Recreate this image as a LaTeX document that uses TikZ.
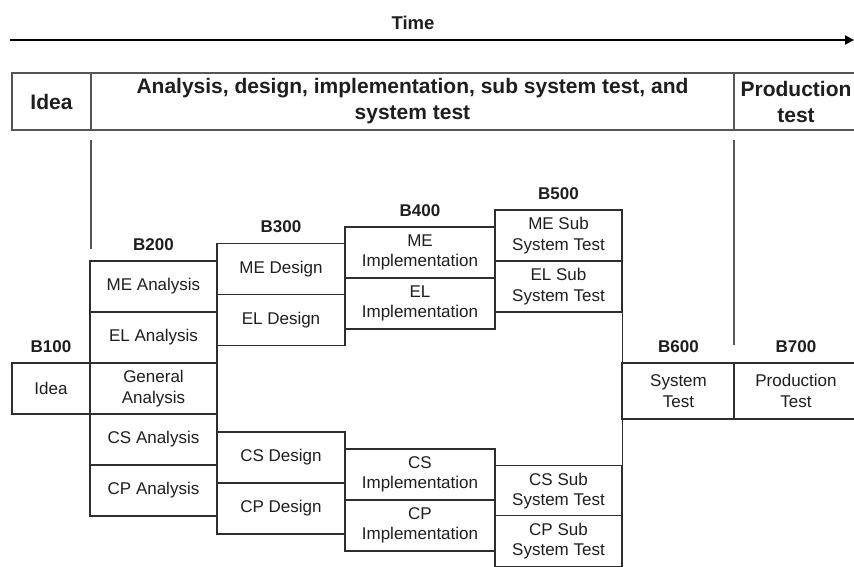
\documentclass[tikz,border=0pt]{standalone}
\usepackage{fontspec}
\setmainfont{Liberation Sans}
\usetikzlibrary{arrows.meta}
\definecolor{boxline}{HTML}{2E2E2E}
\definecolor{hdrline}{HTML}{555555}
\definecolor{ink}{HTML}{1E1E1E}
\begin{document}
\begin{tikzpicture}[x=1pt,y=-1pt,
  cell/.style={draw=boxline, line width=1.3pt, fill=white, inner sep=0pt,
    align=center, text=ink, font=\fontsize{17}{20.5}\selectfont,
    minimum height=51pt},
  hcell/.style={draw=hdrline, line width=1.8pt, inner sep=0pt, align=center,
    text=ink, font=\bfseries\fontsize{21}{26}\selectfont, minimum height=57pt},
  lbl/.style={anchor=base, text=ink, font=\bfseries\fontsize{17}{20}\selectfont},
  rule/.style={draw=hdrline, line width=1.5pt},
  w100/.style={minimum width=78pt},
  w200/.style={minimum width=127pt},
  w300/.style={minimum width=128pt},
  w400/.style={minimum width=150pt},
  w500/.style={minimum width=127pt},
  w600/.style={minimum width=113pt, minimum height=56pt},
  w700/.style={minimum width=124pt, minimum height=56pt}]
\useasboundingbox (0,0) rectangle (854,567);
\clip (0,0) rectangle (854,567);

% time axis
\coordinate (t0) at (10,40);
\coordinate (t1) at (854,40);
\draw[line width=2.4pt, draw=black, -{Triangle[length=9pt,width=9pt]}] (t0) -- (t1);
\node[lbl, font=\bfseries\fontsize{18.5}{20}\selectfont] (time) at (413,29.5) {Time};

% phase header
\node[hcell, minimum width=79pt] (hidea) at (51.5,101.5) {Idea};
\node[hcell, minimum width=643pt] (hmain) at (412.5,101.5)
  {Analysis, design, implementation, sub system test, and\\system test};
\node[hcell, minimum width=124pt] (hprod) at (796,101.5) {Production\\test};

% phase separators
\coordinate (s1a) at (91,140);
\coordinate (s1b) at (91,249);
\coordinate (s2a) at (734,140);
\coordinate (s2b) at (734,345);
\draw[rule] (s1a) -- (s1b);
\draw[rule] (s2a) -- (s2b);

% B100
\node[cell, w100] (idea) at (51,388.5) {Idea};

% B200
\node[cell, w200] (mea) at (153.5,286.5) {ME Analysis};
\node[cell, w200] (ela) at (153.5,337.5) {EL Analysis};
\node[cell, w200] (gen) at (153.5,388.5) {General\\Analysis};
\node[cell, w200] (csa) at (153.5,439.5) {CS Analysis};
\node[cell, w200] (cpa) at (153.5,490.5) {CP Analysis};

% B300
\node[cell, w300] (med) at (281,269) {ME Design};
\node[cell, w300] (eld) at (281,320) {EL Design};
\node[cell, w300] (csd) at (281,457.5) {CS Design};
\node[cell, w300] (cpd) at (281,508.5) {CP Design};

% B400
\node[cell, w400] (mei) at (420,252.5) {ME\\Implementation};
\node[cell, w400] (eli) at (420,303.5) {EL\\Implementation};
\node[cell, w400] (csi) at (420,474.5) {CS\\Implementation};
\node[cell, w400] (cpi) at (420,525.5) {CP\\Implementation};

% B500
\node[cell, w500] (mes) at (558.5,235.5) {ME Sub\\System Test};
\node[cell, w500] (els) at (558.5,286.5) {EL Sub\\System Test};
\node[cell, w500] (css) at (558.5,491) {CS Sub\\System Test};
\node[cell, w500] (cps) at (558.5,541) {CP Sub\\System Test};

% B600 and B700
\draw[draw=boxline, line width=1.3pt] (els.south east) -- (css.north east);
\node[cell, w600] (syst) at (678.5,391) {System\\Test};
\node[cell, w700] (prod) at (796,391) {Production\\Test};

% block labels
\node[lbl] at ([yshift=10pt]idea.north) {B100};
\node[lbl] at ([yshift=10pt]mea.north) {B200};
\node[lbl] at ([yshift=10pt]med.north) {B300};
\node[lbl] at ([yshift=10pt]mei.north) {B400};
\node[lbl] at ([yshift=10pt]mes.north) {B500};
\node[lbl] at ([yshift=10pt]syst.north) {B600};
\node[lbl] at ([yshift=10pt]prod.north) {B700};
\end{tikzpicture}
\end{document}
